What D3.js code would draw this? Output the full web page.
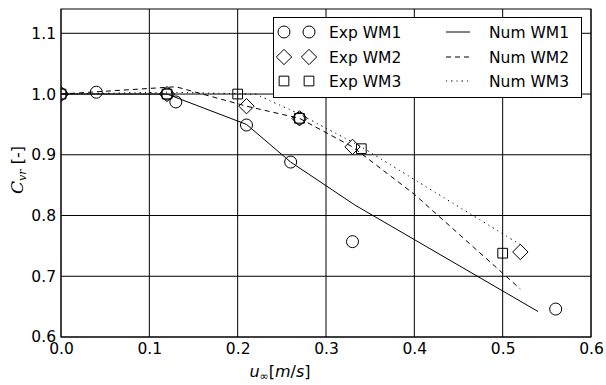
<!DOCTYPE html>
<html>
<head>
<meta charset="utf-8">
<script src="https://cdn.jsdelivr.net/npm/d3@7"></script>
<style>
  body { margin: 0; background: #fff; }
  text { font-family: "DejaVu Sans", sans-serif; }
</style>
</head>
<body>
<svg id="chart" width="606" height="385"></svg>
<script>
  var width = 606, height = 385
  var margin = {left: 61, right: 15, top: 9, bottom: 48}

  // experimental points
  var expWM1x = [0, 0.04, 0.12, 0.13, 0.21, 0.26, 0.27, 0.33, 0.56]
  var expWM1y = [1.0, 1.003, 1.0, 0.987, 0.949, 0.888, 0.96, 0.757, 0.646]
  var expWM2x = [0, 0.12, 0.21, 0.27, 0.33, 0.52]
  var expWM2y = [1.0, 1.0, 0.98, 0.96, 0.913, 0.74]
  var expWM3x = [0, 0.12, 0.2, 0.27, 0.34, 0.5]
  var expWM3y = [1.0, 1.0, 1.0, 0.96, 0.91, 0.738]

  // numerical curves
  var numWM1x = [0, 0.12, 0.21, 0.26, 0.333, 0.54]
  var numWM1y = [1.0, 1.0, 0.95, 0.888, 0.817, 0.642]
  var numWM2x = [0, 0.13, 0.21, 0.27, 0.33, 0.4, 0.52]
  var numWM2y = [1.0, 1.012, 0.98, 0.96, 0.913, 0.835, 0.679]
  var numWM3x = [0, 0.12, 0.22, 0.27, 0.34, 0.52]
  var numWM3y = [1.0, 1.003, 1.0, 0.967, 0.913, 0.752]

  var xTicks = [0.0, 0.1, 0.2, 0.3, 0.4, 0.5, 0.6]
  var yTicks = [0.6, 0.7, 0.8, 0.9, 1.0, 1.1]
  var legendLabels = ["Exp WM1", "Exp WM2", "Exp WM3", "Num WM1", "Num WM2", "Num WM3"]

  var svg = d3.select("#chart")
  var x = d3.scaleLinear().domain([0, 0.6]).range([margin.left, width - margin.right])
  var y = d3.scaleLinear().domain([0.6, 1.14]).range([height - margin.bottom, margin.top])

  svg.append("clipPath").attr("id", "clip")
    .append("rect")
    .attr("x", x(0)).attr("y", y(1.14))
    .attr("width", x(0.6) - x(0)).attr("height", y(0.6) - y(1.14))

  // grid
  var grid = svg.append("g")
  grid.selectAll(".vg").data(xTicks).enter().append("line")
    .attr("x1", function(d) { return x(d) }).attr("x2", function(d) { return x(d) })
    .attr("y1", y(0.6)).attr("y2", y(1.14))
    .attr("stroke", "#000").attr("stroke-width", 1)
  grid.selectAll(".hg").data(yTicks).enter().append("line")
    .attr("y1", function(d) { return y(d) }).attr("y2", function(d) { return y(d) })
    .attr("x1", x(0)).attr("x2", x(0.6))
    .attr("stroke", "#000").attr("stroke-width", 1)

  // axes
  svg.append("g")
    .attr("transform", "translate(0," + y(0.6) + ")")
    .call(d3.axisBottom(x).tickValues(xTicks).tickSize(0).tickPadding(6).tickFormat(d3.format(".1f")))
    .call(function(g) { g.select(".domain").remove() })
    .selectAll("text").attr("font-size", 15.5).attr("font-family", "DejaVu Sans").attr("fill", "#000")
  svg.append("g")
    .attr("transform", "translate(" + x(0) + ",0)")
    .call(d3.axisLeft(y).tickValues(yTicks).tickSize(0).tickPadding(5).tickFormat(d3.format(".1f")))
    .call(function(g) { g.select(".domain").remove() })
    .selectAll("text").attr("font-size", 15.5).attr("font-family", "DejaVu Sans").attr("fill", "#000")

  var plot = svg.append("g").attr("clip-path", "url(#clip)")

  function zip(xs, ys) { return xs.map(function(v, i) { return [v, ys[i]] }) }
  var line = d3.line().x(function(d) { return x(d[0]) }).y(function(d) { return y(d[1]) })

  var numSeries = [
    {data: zip(numWM1x, numWM1y), dash: null},
    {data: zip(numWM2x, numWM2y), dash: "5,4"},
    {data: zip(numWM3x, numWM3y), dash: "1,4,1.5,4"}
  ]
  numSeries.forEach(function(s) {
    plot.append("path").attr("d", line(s.data))
      .attr("fill", "none").attr("stroke", "#000").attr("stroke-width", 1)
      .attr("stroke-dasharray", s.dash)
  })

  var sym = [d3.symbolCircle, d3.symbolDiamond2, d3.symbolSquare2]
  var symSize = [113, 150, 120]
  function marker(g, k, cx, cy) {
    g.append("path")
      .attr("d", d3.symbol().type(sym[k]).size(symSize[k])())
      .attr("transform", "translate(" + cx + "," + cy + ")")
      .attr("fill", "none").attr("stroke", "#000").attr("stroke-width", 1)
  }
  var expSeries = [zip(expWM1x, expWM1y), zip(expWM2x, expWM2y), zip(expWM3x, expWM3y)]
  expSeries.forEach(function(pts, k) {
    pts.forEach(function(d) { marker(plot, k, x(d[0]), y(d[1])) })
  })

  // frame
  svg.append("rect")
    .attr("x", x(0)).attr("y", y(1.14))
    .attr("width", x(0.6) - x(0)).attr("height", y(0.6) - y(1.14))
    .attr("fill", "none").attr("stroke", "#000").attr("stroke-width", 1)

  // legend
  var lg = svg.append("g")
  lg.append("rect").attr("x", 273.5).attr("y", 17.5).attr("width", 308).attr("height", 80)
    .attr("fill", "#fff").attr("stroke", "#000").attr("stroke-width", 1)
  var rows = [32, 57, 81]
  rows.forEach(function(ry, k) {
    marker(lg, k, 284, ry)
    marker(lg, k, 309, ry)
    lg.append("text").attr("x", 329).attr("y", ry + 5.5).attr("font-size", 15.5).text(legendLabels[k])
    lg.append("line").attr("x1", 446).attr("x2", 470).attr("y1", ry).attr("y2", ry)
      .attr("stroke", "#000").attr("stroke-width", 1).attr("stroke-dasharray", numSeries[k].dash)
    lg.append("text").attr("x", 489).attr("y", ry + 5.5).attr("font-size", 15.5).text(legendLabels[k + 3])
  })

  // axis labels
  var xl = svg.append("text").attr("x", 280).attr("y", 377).attr("text-anchor", "middle")
    .attr("font-family", "DejaVu Serif").attr("font-size", 16)
  xl.append("tspan").attr("font-style", "italic").text("u")
  xl.append("tspan").attr("font-size", 11).attr("dy", 3).text("∞")
  xl.append("tspan").attr("dy", -3).text("[")
  xl.append("tspan").attr("font-style", "italic").text("m")
  xl.append("tspan").text("/")
  xl.append("tspan").attr("font-style", "italic").text("s")
  xl.append("tspan").text("]")

  var yl = svg.append("text").attr("transform", "translate(23,170) rotate(-90)")
    .attr("text-anchor", "middle").attr("font-size", 16)
  yl.append("tspan").attr("font-family", "DejaVu Serif").attr("font-style", "italic").attr("font-size", 17).text("C")
  yl.append("tspan").attr("font-family", "DejaVu Serif").attr("font-style", "italic")
    .attr("font-size", 11).attr("dy", 3).text("vr")
  yl.append("tspan").attr("dy", -3).text(" [-]")
</script>
</body>
</html>
